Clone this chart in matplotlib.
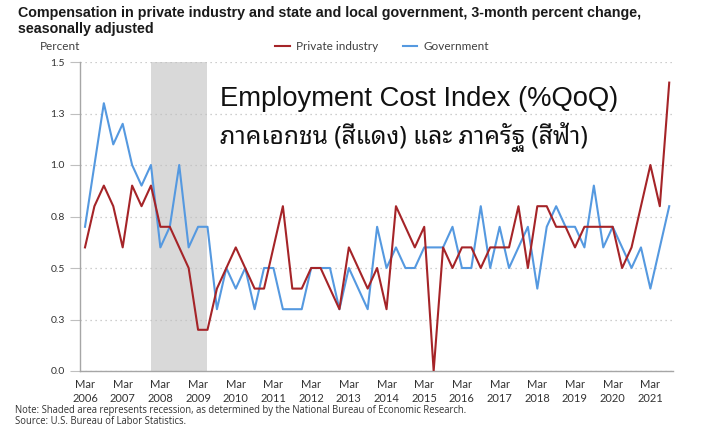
import matplotlib
matplotlib.use("Agg")
import matplotlib.pyplot as plt
from matplotlib import font_manager
import numpy as np

# ---------------- data ----------------
private = [0.6, 0.8, 0.9, 0.8, 0.6, 0.9, 0.8, 0.9, 0.7, 0.7,
           0.6, 0.5, 0.2, 0.2, 0.4, 0.5, 0.6, 0.5, 0.4, 0.4,
           0.6, 0.8, 0.4, 0.4, 0.5, 0.5, 0.4, 0.3, 0.6, 0.5,
           0.4, 0.5, 0.3, 0.8, 0.7, 0.6, 0.7, 0.0, 0.6, 0.5,
           0.6, 0.6, 0.5, 0.6, 0.6, 0.6, 0.8, 0.5, 0.8, 0.8,
           0.7, 0.7, 0.6, 0.7, 0.7, 0.7, 0.7, 0.5, 0.6, 0.8,
           1.0, 0.8, 1.4]
government = [0.7, 1.0, 1.3, 1.1, 1.2, 1.0, 0.9, 1.0, 0.6, 0.7,
              1.0, 0.6, 0.7, 0.7, 0.3, 0.5, 0.4, 0.5, 0.3, 0.5,
              0.5, 0.3, 0.3, 0.3, 0.5, 0.5, 0.5, 0.3, 0.5, 0.4,
              0.3, 0.7, 0.5, 0.6, 0.5, 0.5, 0.6, 0.6, 0.6, 0.7,
              0.5, 0.5, 0.8, 0.5, 0.7, 0.5, 0.6, 0.7, 0.4, 0.7,
              0.8, 0.7, 0.7, 0.6, 0.9, 0.6, 0.7, 0.6, 0.5, 0.6,
              0.4, 0.6, 0.8]
years = list(range(2006, 2022))
year_labels = ["Mar\n%d" % y for y in years]
y_ticks = [0.0, 0.25, 0.5, 0.75, 1.0, 1.25, 1.5]
y_tick_labels = ["0.0", "0.3", "0.5", "0.8", "1.0", "1.3", "1.5"]
recession = (7, 13)  # quarter index Dec 2007 .. Jun 2009

title_text = ("Compensation in private industry and state and local government, "
              "3-month percent change,\nseasonally adjusted")
overlay_en = "Employment Cost Index (%QoQ)"
overlay_th = "ภาคเอกชน (สีแดง) และ ภาครัฐ (สีฟ้า)"
note_text = ("Note: Shaded area represents recession, as determined by the "
             "National Bureau of Economic Research.")
source_text = "Source: U.S. Bureau of Labor Statistics."

# ---------------- fonts ----------------
available = {f.name for f in font_manager.fontManager.ttflist}
thai_family = "DejaVu Sans"
for cand in ["Waree", "Noto Sans Thai Looped", "IBM Plex Sans Thai Looped",
             "Sarabun", "Loma", "Noto Sans Thai"]:
    if cand in available:
        thai_family = cand
        break

W, H = 716, 428
fig = plt.figure(figsize=(W / 100, H / 100), dpi=100)
fig.patch.set_facecolor("white")
renderer = fig.canvas.get_renderer()


def fit_width(txt, target_px):
    fs = txt.get_fontsize()
    for _ in range(3):
        w = txt.get_window_extent(renderer=renderer).width
        fs = fs * target_px / w
        txt.set_fontsize(fs)


left, right, bottom, top = 80, 673, 371, 62
ax = fig.add_axes([left / W, 1 - bottom / H, (right - left) / W, (bottom - top) / H])

x = np.arange(len(private))
ax.axvspan(recession[0], recession[1], color="#D9D9D9", lw=0, zorder=0)
ax.plot(x, private, color="#A52428", lw=1.5, zorder=3, label="Private industry")
ax.plot(x, government, color="#5599E0", lw=1.5, zorder=2, label="Government")

ax.set_xlim(-0.53, 62.4)
ax.set_ylim(0, 1.5)
ax.set_yticks(y_ticks)
ax.set_yticklabels(y_tick_labels)
ax.set_xticks([4 * i for i in range(len(years))])
ax.set_xticklabels(year_labels, linespacing=1.3)

for s in ["top", "right"]:
    ax.spines[s].set_visible(False)
for s in ["left", "bottom"]:
    ax.spines[s].set_color("#A6A6A6")
    ax.spines[s].set_linewidth(1.0)

ax.yaxis.grid(True, linestyle=(0, (1, 3)), color="#BFBFBF", lw=0.9)
ax.set_axisbelow(True)
ax.tick_params(axis="y", length=7, color="#BFBFBF", labelsize=7.5, labelcolor="#333333", pad=4)
ax.tick_params(axis="x", length=0, labelsize=8, labelcolor="#333333", pad=6)
for lab in ax.get_xticklabels() + ax.get_yticklabels():
    lab.set_fontfamily("Lato")

t_title = fig.text(18 / W, 1 - 5.5 / H, title_text,
                   ha="left", va="top", fontsize=10, fontweight="bold",
                   family="Liberation Sans", color="#1a1a1a", linespacing=1.2)
line1 = fig.text(0, 0, title_text.split("\n")[0], fontsize=10, fontweight="bold",
                 family="Liberation Sans")
fit_width(line1, 623)
t_title.set_fontsize(line1.get_fontsize())
line1.remove()

fig.text(40 / W, 1 - 47 / H, "Percent", ha="left", va="center", fontsize=8.5,
         family="Lato", color="#404040")

leg = fig.legend(loc="center left", bbox_to_anchor=(275 / W, 1 - 47 / H), ncol=2,
                 frameon=False, handlelength=1.25, handletextpad=0.5,
                 columnspacing=2.1, borderaxespad=0, borderpad=0,
                 prop={"family": "Lato", "size": 8.5})
for t in leg.get_texts():
    t.set_color("#404040")

t_en = fig.text(220 / W, 1 - 99 / H, overlay_en, ha="left", va="center",
                fontsize=19.5, family="Liberation Sans", color="#111111")
fit_width(t_en, 397)
t_th = fig.text(220 / W, 1 - 137 / H, overlay_th, ha="left", va="center",
                fontsize=15, family=[thai_family, "DejaVu Sans"], color="#111111",
                fontweight="semibold")
fit_width(t_th, 368)

t_note = fig.text(15 / W, 1 - 411 / H, note_text,
                  ha="left", va="center", fontsize=7.2, family="Open Sans", color="#333333")
fit_width(t_note, 456)
fig.text(15 / W, 1 - 422 / H, source_text,
         ha="left", va="center", fontsize=t_note.get_fontsize(), family="Open Sans",
         color="#333333")

fig.savefig("out.png", dpi=100, facecolor="white")
